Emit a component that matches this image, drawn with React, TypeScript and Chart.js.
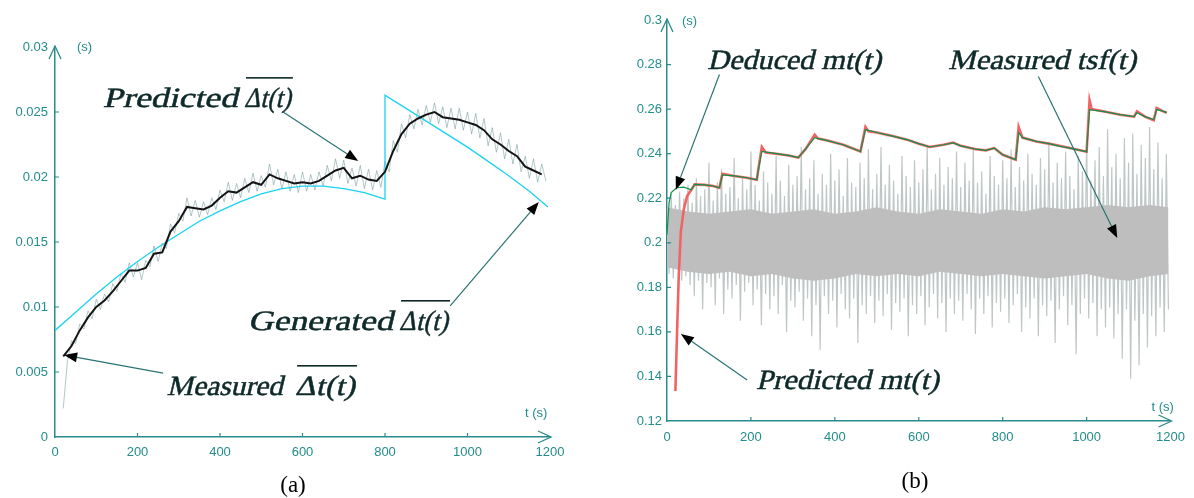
import React, { useEffect, useRef } from "react";
import { Chart, registerables } from "chart.js";
Chart.register(...registerables);

// ---------- Panel (a) data ----------
const xTicksA = [0, 200, 400, 600, 800, 1000, 1200];
const yTicksA = [0, 0.005, 0.01, 0.015, 0.02, 0.025, 0.03];

// Generated mean delay (cyan)
const genT = [0, 50, 100, 150, 200, 250, 300, 350, 400, 450, 500, 550, 600, 650, 700, 750, 800, 800, 850, 900, 950, 1000, 1050, 1100, 1150, 1195];
const genV = [0.0082, 0.0096, 0.011, 0.0123, 0.0135, 0.0146, 0.0156, 0.0166, 0.0174, 0.0181, 0.0187, 0.0191, 0.0193, 0.0193, 0.0191, 0.0188, 0.0183, 0.0263, 0.0253, 0.0243, 0.0233, 0.0223, 0.0212, 0.0201, 0.0189, 0.0177];

// Predicted mean delay (black), t = 20, 40, ... 1180
const predStart = 20;
const predStep = 20;
const predV = [0.0062, 0.007, 0.0082, 0.0092, 0.01, 0.0105, 0.0112, 0.012, 0.0128, 0.0128, 0.013, 0.0141, 0.0142, 0.0158, 0.0166, 0.0177, 0.0176, 0.0175, 0.0178, 0.0184, 0.0189, 0.0188, 0.0192, 0.0196, 0.0194, 0.0202, 0.0199, 0.0197, 0.0195, 0.0196, 0.0195, 0.0197, 0.0201, 0.0205, 0.0207, 0.0199, 0.0201, 0.0198, 0.0197, 0.0204, 0.022, 0.0233, 0.0241, 0.0245, 0.0248, 0.025, 0.0246, 0.0245, 0.0244, 0.0242, 0.024, 0.0236, 0.0229, 0.0225, 0.022, 0.0216, 0.0208, 0.0205, 0.0202];

// Measured mean delay (grey), t = 20, 30, ... 1190
const measStart = 20;
const measStep = 10;
const measV = [0.0022, 0.0058, 0.0074, 0.0072, 0.0087, 0.0083, 0.0097, 0.0091, 0.0106, 0.0098, 0.011, 0.0104, 0.0118, 0.0112, 0.0126, 0.0119, 0.0134, 0.0123, 0.0134, 0.0121, 0.0136, 0.0131, 0.0147, 0.0135, 0.0149, 0.0145, 0.0164, 0.0157, 0.0172, 0.0166, 0.0184, 0.017, 0.0182, 0.0169, 0.0181, 0.0171, 0.0184, 0.0175, 0.019, 0.0181, 0.0196, 0.0182, 0.0195, 0.0184, 0.0199, 0.0188, 0.0203, 0.0189, 0.0201, 0.0192, 0.021, 0.0194, 0.0206, 0.0191, 0.0204, 0.0189, 0.0202, 0.0188, 0.0204, 0.0189, 0.0202, 0.019, 0.0204, 0.0193, 0.0209, 0.0197, 0.0214, 0.0199, 0.0213, 0.0195, 0.0207, 0.0193, 0.0209, 0.0191, 0.0206, 0.019, 0.0205, 0.0192, 0.0212, 0.0204, 0.0228, 0.0219, 0.0241, 0.023, 0.0248, 0.0237, 0.0252, 0.024, 0.0255, 0.0242, 0.0257, 0.0241, 0.0254, 0.0238, 0.0253, 0.0237, 0.0253, 0.0236, 0.025, 0.0233, 0.0249, 0.023, 0.0245, 0.0224, 0.0238, 0.0219, 0.0234, 0.0214, 0.0229, 0.021, 0.0225, 0.0204, 0.0216, 0.0199, 0.0214, 0.0196, 0.021, 0.0197];

// ---------- Panel (b) data ----------
const xTicksB = [0, 200, 400, 600, 800, 1000, 1200];
const yTicksB = [0.12, 0.14, 0.16, 0.18, 0.2, 0.22, 0.24, 0.26, 0.28, 0.3];

// Deduced mt(t) (green)
const dedT = [0, 5, 10, 23, 40, 58, 66, 90, 110, 125, 132, 160, 190, 214, 220, 226, 260, 290, 313, 330, 352, 380, 420, 461, 473, 500, 540, 572, 600, 626, 659, 682, 700, 736, 760, 780, 800, 831, 838, 847, 880, 910, 932, 960, 1000, 1007, 1042, 1080, 1113, 1120, 1140, 1160, 1167, 1180, 1191];
const dedV = [0.2036, 0.218, 0.2225, 0.2247, 0.225, 0.2238, 0.2262, 0.226, 0.2255, 0.2247, 0.2305, 0.23, 0.2292, 0.2283, 0.235, 0.241, 0.24, 0.2392, 0.2382, 0.242, 0.2472, 0.246, 0.244, 0.241, 0.2508, 0.2495, 0.2478, 0.2463, 0.2445, 0.243, 0.244, 0.2448, 0.2435, 0.242, 0.2415, 0.2425, 0.2395, 0.2373, 0.2494, 0.2472, 0.2455, 0.2445, 0.2435, 0.2425, 0.2409, 0.2598, 0.2589, 0.2575, 0.2566, 0.2584, 0.2565, 0.2553, 0.2598, 0.2592, 0.2584];

// Predicted mt(t) (red)
const prdT = [20, 24, 28, 33, 40, 48, 58, 66, 90, 110, 125, 132, 160, 190, 214, 220, 226, 235, 260, 290, 313, 330, 352, 360, 380, 420, 461, 473, 480, 500, 540, 572, 600, 626, 659, 682, 700, 736, 760, 780, 800, 831, 838, 847, 880, 910, 932, 960, 1000, 1007, 1012, 1042, 1080, 1113, 1120, 1140, 1160, 1167, 1180, 1191];
const prdV = [0.1335, 0.16, 0.185, 0.205, 0.215, 0.221, 0.2238, 0.2262, 0.226, 0.2255, 0.2247, 0.231, 0.23, 0.2292, 0.2283, 0.236, 0.243, 0.2405, 0.24, 0.2392, 0.2382, 0.242, 0.2485, 0.2468, 0.246, 0.244, 0.241, 0.252, 0.25, 0.2495, 0.2478, 0.2463, 0.2445, 0.243, 0.244, 0.245, 0.2435, 0.242, 0.2415, 0.2425, 0.2395, 0.2373, 0.252, 0.2472, 0.2455, 0.2445, 0.2437, 0.2425, 0.2409, 0.264, 0.26, 0.2589, 0.2575, 0.2566, 0.259, 0.2565, 0.255, 0.2605, 0.2592, 0.2584];

// Measured tsf(t): dense core envelope (t = 0, 50, ... 1150, 1195)
const coreT = [0, 50, 100, 150, 200, 250, 300, 350, 400, 450, 500, 550, 600, 650, 700, 750, 800, 850, 900, 950, 1000, 1050, 1100, 1150, 1195];
const coreHi = [0.216, 0.214, 0.213, 0.214, 0.215, 0.213, 0.214, 0.215, 0.213, 0.214, 0.216, 0.214, 0.213, 0.215, 0.214, 0.213, 0.215, 0.214, 0.216, 0.215, 0.216, 0.217, 0.216, 0.217, 0.216];
const coreLo = [0.189, 0.187, 0.186, 0.187, 0.185, 0.186, 0.184, 0.183, 0.184, 0.186, 0.185, 0.186, 0.185, 0.187, 0.186, 0.185, 0.186, 0.185, 0.184, 0.185, 0.186, 0.184, 0.183, 0.185, 0.186];

// Measured tsf(t) individual samples (spikes), t = 0, 5, ... 1195
const tsfStart = 0;
const tsfStep = 5;
const tsfV = [
  0.219, 0.186, 0.222, 0.184, 0.217, 0.188, 0.223, 0.183, 0.22, 0.185,
  0.226, 0.181, 0.218, 0.176, 0.229, 0.183, 0.221, 0.17, 0.224, 0.182,
  0.236, 0.18, 0.219, 0.172, 0.227, 0.184, 0.233, 0.168, 0.222, 0.179,
  0.225, 0.175, 0.238, 0.181, 0.22, 0.165, 0.229, 0.178, 0.224, 0.182,
  0.241, 0.172, 0.226, 0.179, 0.219, 0.163, 0.232, 0.177, 0.227, 0.17,
  0.222, 0.176, 0.239, 0.168, 0.228, 0.181, 0.221, 0.16, 0.235, 0.174,
  0.226, 0.171, 0.23, 0.178, 0.243, 0.165, 0.224, 0.175, 0.229, 0.158,
  0.237, 0.172, 0.222, 0.152, 0.231, 0.176, 0.226, 0.168, 0.24, 0.174,
  0.228, 0.162, 0.233, 0.177, 0.221, 0.17, 0.238, 0.166, 0.227, 0.175,
  0.225, 0.155, 0.236, 0.172, 0.229, 0.168, 0.242, 0.176, 0.224, 0.164,
  0.231, 0.174, 0.243, 0.167, 0.226, 0.177, 0.235, 0.161, 0.228, 0.173,
  0.222, 0.169, 0.239, 0.175, 0.23, 0.158, 0.225, 0.172, 0.237, 0.168,
  0.227, 0.176, 0.233, 0.163, 0.244, 0.171, 0.224, 0.177, 0.231, 0.166,
  0.238, 0.173, 0.226, 0.16, 0.234, 0.175, 0.229, 0.168, 0.241, 0.174,
  0.225, 0.165, 0.236, 0.177, 0.228, 0.17, 0.243, 0.159, 0.227, 0.175,
  0.232, 0.168, 0.222, 0.176, 0.239, 0.162, 0.23, 0.173, 0.226, 0.169,
  0.237, 0.175, 0.229, 0.164, 0.242, 0.172, 0.225, 0.177, 0.234, 0.16,
  0.228, 0.171, 0.24, 0.166, 0.231, 0.175, 0.226, 0.158, 0.238, 0.172,
  0.233, 0.167, 0.245, 0.174, 0.227, 0.155, 0.236, 0.17, 0.229, 0.176,
  0.241, 0.163, 0.23, 0.172, 0.224, 0.15, 0.239, 0.168, 0.232, 0.175,
  0.246, 0.166, 0.228, 0.173, 0.237, 0.158, 0.243, 0.17, 0.23, 0.162,
  0.251, 0.171, 0.234, 0.157, 0.24, 0.168, 0.229, 0.148, 0.247, 0.17,
  0.236, 0.139, 0.249, 0.165, 0.231, 0.145, 0.244, 0.168, 0.238, 0.153,
  0.252, 0.167, 0.233, 0.158, 0.245, 0.171, 0.229, 0.16, 0.24, 0.17,
];

// ---------- styling ----------
const AXIS = "#2b8a8a";
const TICK = "#238c8c";
const TEXT = "#0f2a2a";
const ARROW = "#2a7373";
const NOTE_FONT = '28px "Liberation Serif"';

type XY = { x: number; y: number };
const pairs = (ts: number[], vs: number[]): XY[] => vs.map((v, i) => ({ x: ts[i], y: v }));
const regular = (start: number, step: number, vs: number[]): XY[] => vs.map((v, i) => ({ x: start + step * i, y: v }));

type Part = { s: string; t: number; w: number; bar?: boolean };
type Note = { parts: Part[]; v: number; from: [number, number]; to: [number, number] };
type Panel = {
  id: string;
  canvasLeft: number;
  padding: { left: number; right: number; top: number; bottom: number };
  yWidth: number;
  xHeight: number;
  yLabelPad: number;
  xLabelPad: number;
  xMin: number; xMax: number; yMin: number; yMax: number;
  xTicks: number[]; yTicks: number[];
  sLabel: [number, number];
  tLabel: [number, number];
  caption: string; captionXY: [number, number];
  notes: Note[];
  datasets: any[];
};

const line = (data: XY[], color: string, width: number, extra: any = {}) => ({
  data, borderColor: color, borderWidth: width, pointRadius: 0, fill: false, tension: 0, ...extra,
});

const panelA: Panel = {
  id: "a", canvasLeft: 0,
  padding: { left: 0, right: 47, top: 47, bottom: 0 },
  yWidth: 55, xHeight: 61, yLabelPad: 7, xLabelPad: 8,
  xMin: 0, xMax: 1200, yMin: 0, yMax: 0.03,
  xTicks: xTicksA, yTicks: yTicksA,
  sLabel: [22, 0], tLabel: [-25, -24],
  caption: "(a)", captionXY: [293, 492],
  notes: [
    { parts: [{ s: "Predicted", t: 116, w: 135 }, { s: "Δt(t)", t: 458, w: 47, bar: true }], v: 0.02538, from: [553, 0.025], to: [735, 0.02123] },
    { parts: [{ s: "Generated", t: 468, w: 145 }, { s: "Δt(t)", t: 834, w: 49, bar: true }], v: 0.00823, from: [958, 0.01008], to: [1173, 0.01808] },
    { parts: [{ s: "Measured", t: 271, w: 116 }, { s: "Δt(t)", t: 582, w: 60, bar: true }], v: 0.00323, from: [262, 0.00492], to: [22, 0.00631] },
  ],
  datasets: [
    line(regular(predStart, predStep, predV), "#141414", 2),
    line(pairs(genT, genV), "#19d2f2", 1.3),
    line(regular(measStart, measStep, measV), "rgba(110,150,150,0.6)", 0.9),
  ],
};

const panelB: Panel = {
  id: "b", canvasLeft: 597,
  padding: { left: 0, right: 17, top: 20, bottom: 0 },
  yWidth: 70, xHeight: 77, yLabelPad: 5, xLabelPad: 9,
  xMin: 0, xMax: 1200, yMin: 0.12, yMax: 0.3,
  xTicks: xTicksB, yTicks: yTicksB,
  sLabel: [15, 1], tLabel: [-19, -14],
  caption: "(b)", captionXY: [318, 488],
  notes: [
    { parts: [{ s: "Deduced mt(t)", t: 96, w: 174 }], v: 0.2778, from: [125, 0.2755], to: [21, 0.2238] },
    { parts: [{ s: "Measured tsf(t)", t: 670, w: 188 }], v: 0.2778, from: [885, 0.2746], to: [1073, 0.2022] },
    { parts: [{ s: "Predicted mt(t)", t: 212, w: 183 }], v: 0.1344, from: [191, 0.1384], to: [33, 0.1591] },
  ],
  datasets: [
    line(pairs(dedT, dedV), "#10904a", 1.2),
    line(pairs(prdT, prdV), "#f26464", 2.6),
    line(pairs(coreT, coreHi), "rgba(190,190,190,0)", 0, { fill: "+1", backgroundColor: "#bebebe" }),
    line(pairs(coreT, coreLo), "rgba(190,190,190,0)", 0),
    line(regular(tsfStart, tsfStep, tsfV), "#bfc6c6", 1.2),
  ],
};

// italic-looking serif text, skewed and fitted to a width
function drawFit(ctx: CanvasRenderingContext2D, text: string, x: number, y: number, w: number) {
  ctx.font = NOTE_FONT;
  const m = ctx.measureText(text).width || 1;
  ctx.save();
  ctx.translate(x, y);
  ctx.transform(w / m, 0, -0.24, 1, 0, 0);
  ctx.textAlign = "left";
  ctx.textBaseline = "alphabetic";
  ctx.fillText(text, 0, 0);
  ctx.lineWidth = 0.5;
  ctx.strokeStyle = TEXT;
  ctx.strokeText(text, 0, 0);
  ctx.restore();
}

function overlay(p: Panel) {
  return {
    id: "overlay_" + p.id,
    afterDraw(chart: any) {
      const ctx: CanvasRenderingContext2D = chart.ctx;
      const xs = chart.scales.x;
      const ys = chart.scales.y;
      const { left, right, top, bottom } = chart.chartArea;
      ctx.save();
      // inner tick marks
      ctx.strokeStyle = AXIS;
      ctx.lineWidth = 1.2;
      ctx.beginPath();
      p.yTicks.slice(1, -1).forEach((v) => {
        const y = ys.getPixelForValue(v);
        ctx.moveTo(left, y);
        ctx.lineTo(left + 4, y);
      });
      p.xTicks.slice(1, -1).forEach((v) => {
        const x = xs.getPixelForValue(v);
        ctx.moveTo(x, bottom);
        ctx.lineTo(x, bottom - 4);
      });
      ctx.stroke();
      // axis arrow heads
      ctx.lineWidth = 1.3;
      ctx.beginPath();
      ctx.moveTo(left - 6, top + 12);
      ctx.lineTo(left, top - 1);
      ctx.lineTo(left + 6, top + 12);
      ctx.moveTo(right - 12, bottom - 6);
      ctx.lineTo(right + 1, bottom);
      ctx.lineTo(right - 12, bottom + 6);
      ctx.stroke();
      // unit labels
      ctx.fillStyle = TICK;
      ctx.font = '13px "Liberation Sans"';
      ctx.textAlign = "left";
      ctx.textBaseline = "middle";
      ctx.fillText("(s)", left + p.sLabel[0], top + p.sLabel[1]);
      ctx.fillText("t (s)", right + p.tLabel[0], bottom + p.tLabel[1]);
      // annotations
      p.notes.forEach((n) => {
        const yb = ys.getPixelForValue(n.v);
        n.parts.forEach((pt) => {
          const x = xs.getPixelForValue(pt.t);
          ctx.fillStyle = TEXT;
          drawFit(ctx, pt.s, x, yb, pt.w);
          if (pt.bar) {
            ctx.fillStyle = TEXT;
            ctx.fillRect(x + 2, yb - 30, pt.w, 1.6);
          }
        });
        const fx = xs.getPixelForValue(n.from[0]);
        const fy = ys.getPixelForValue(n.from[1]);
        const tx = xs.getPixelForValue(n.to[0]);
        const ty = ys.getPixelForValue(n.to[1]);
        const a = Math.atan2(ty - fy, tx - fx);
        const L = 13, W = 5;
        const bx = tx - L * Math.cos(a);
        const by = ty - L * Math.sin(a);
        ctx.strokeStyle = ARROW;
        ctx.lineWidth = 1.2;
        ctx.beginPath();
        ctx.moveTo(fx, fy);
        ctx.lineTo(bx, by);
        ctx.stroke();
        ctx.fillStyle = "#000";
        ctx.beginPath();
        ctx.moveTo(tx, ty);
        ctx.lineTo(bx + W * Math.sin(a), by - W * Math.cos(a));
        ctx.lineTo(bx - W * Math.sin(a), by + W * Math.cos(a));
        ctx.closePath();
        ctx.fill();
      });
      // caption
      ctx.fillStyle = "#000";
      ctx.font = '23px "Liberation Serif"';
      ctx.textAlign = "center";
      ctx.textBaseline = "alphabetic";
      ctx.fillText(p.caption, p.captionXY[0], p.captionXY[1]);
      ctx.restore();
    },
  };
}

function PanelChart({ p }: { p: Panel }) {
  const ref = useRef<HTMLCanvasElement>(null);
  useEffect(() => {
    const chart = new Chart(ref.current as HTMLCanvasElement, {
      type: "line",
      data: { datasets: p.datasets },
      options: {
        animation: false,
        responsive: false,
        devicePixelRatio: 1,
        layout: { padding: p.padding },
        plugins: { legend: { display: false }, tooltip: { enabled: false } },
        scales: {
          x: {
            type: "linear",
            min: p.xMin,
            max: p.xMax,
            grid: { display: false, drawTicks: false },
            border: { display: true, color: AXIS, width: 1.5 },
            ticks: {
              color: TICK,
              font: { family: "Liberation Sans", size: 13 },
              padding: p.xLabelPad,
              maxRotation: 0,
              autoSkip: false,
              callback: (v: any) => String(v),
            },
            afterBuildTicks: (s: any) => {
              s.ticks = p.xTicks.map((v) => ({ value: v }));
            },
            afterFit: (s: any) => {
              s.height = p.xHeight;
            },
          },
          y: {
            type: "linear",
            min: p.yMin,
            max: p.yMax,
            grid: { display: false, drawTicks: false },
            border: { display: true, color: AXIS, width: 1.5 },
            ticks: {
              color: TICK,
              font: { family: "Liberation Sans", size: 13 },
              padding: p.yLabelPad,
              autoSkip: false,
              callback: (v: any) => String(v),
            },
            afterBuildTicks: (s: any) => {
              s.ticks = p.yTicks.map((v) => ({ value: v }));
            },
            afterFit: (s: any) => {
              s.width = p.yWidth;
            },
          },
        },
      } as any,
      plugins: [overlay(p)],
    });
    return () => chart.destroy();
  }, []);
  return (
    <canvas
      ref={ref}
      width={597}
      height={498}
      style={{ position: "absolute", left: p.canvasLeft, top: 0, width: 597, height: 498 }}
    />
  );
}

export default function App() {
  return (
    <div style={{ position: "fixed", left: 0, top: 0, width: 1194, height: 498, background: "#fff" }}>
      <PanelChart p={panelA} />
      <PanelChart p={panelB} />
    </div>
  );
}
